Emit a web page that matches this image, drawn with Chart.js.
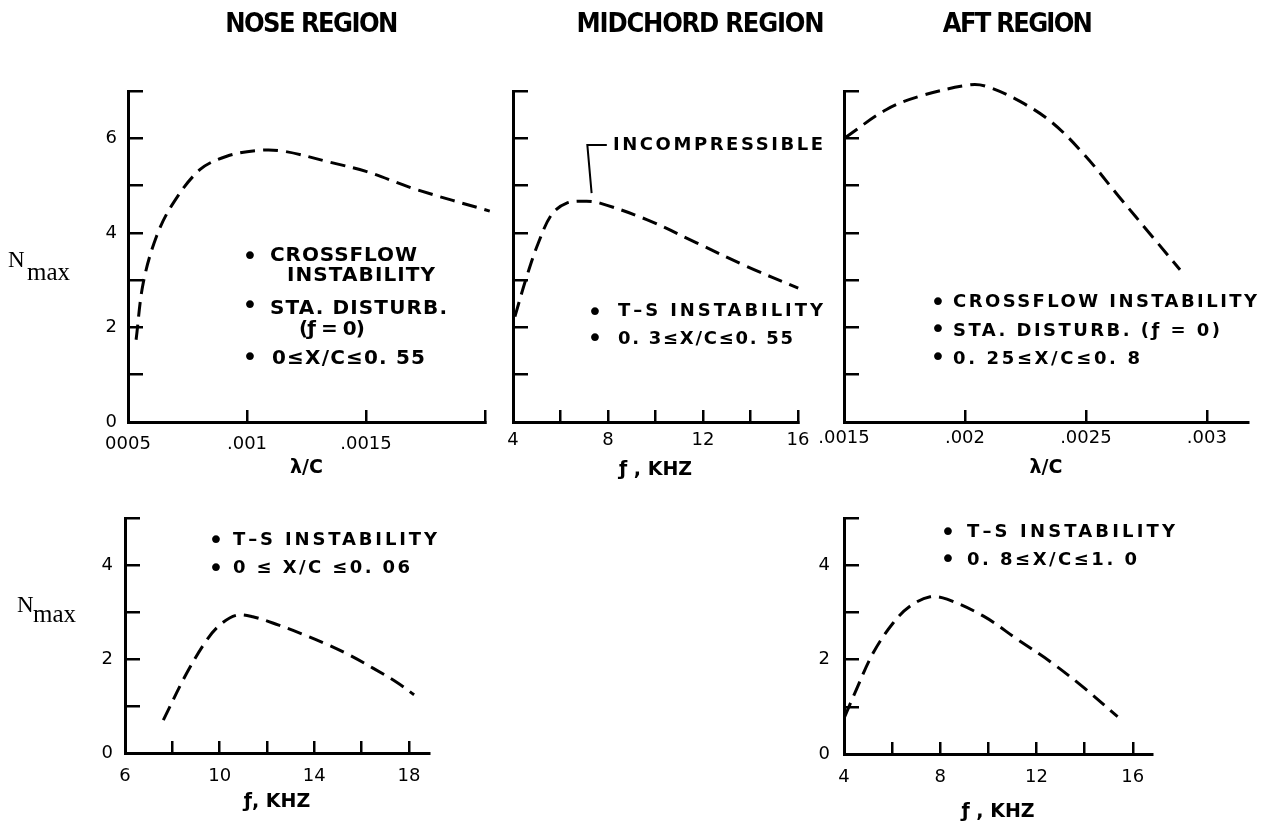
<!DOCTYPE html>
<html lang="en">
<head>
<meta charset="utf-8">
<title>Nmax versus wavelength and frequency</title>
<script src="https://cdn.jsdelivr.net/npm/chart.js@4.4.1/dist/chart.umd.min.js"></script>
<style>
  html, body { margin: 0; padding: 0; background: #fff; }
  #page { position: relative; width: 1271px; height: 826px; overflow: hidden; background: #fff; }
  #page canvas { position: absolute; left: 0; top: 0; }
  .t { position: absolute; white-space: nowrap; line-height: 1; color: #000; transform: translateY(-50%); }
  .c { transform: translate(-50%, -50%); }
  .head { font-family: 'Liberation Sans Narrow', 'DejaVu Sans Condensed', 'DejaVu Sans', sans-serif; font-stretch: condensed; font-weight: bold; font-size: 27px; }
  .note { font-family: 'DejaVu Sans', sans-serif; font-weight: bold; font-size: 18px; }
  .big { font-size: 20px; }
  .dot { font-family: 'DejaVu Sans', sans-serif; font-size: 27px; }
  .serif { position: absolute; line-height: 1; white-space: nowrap; font-family: 'Liberation Serif', 'DejaVu Serif', serif; color: #000; }
</style>
</head>
<body>
<div id="page">
  <canvas id="noseCf" width="1271" height="826"></canvas>
  <canvas id="midTs" width="1271" height="826"></canvas>
  <canvas id="aftCf" width="1271" height="826"></canvas>
  <canvas id="noseTs" width="1271" height="826"></canvas>
  <canvas id="aftTs" width="1271" height="826"></canvas>

  <!-- region headings -->
  <div class="t c head" data-w="173" style="left:311px; top:22px">NOSE REGION</div>
  <div class="t c head" data-w="248" style="left:700px; top:22px">MIDCHORD REGION</div>
  <div class="t c head" data-w="150" style="left:1017px; top:22px">AFT REGION</div>

  <!-- N max labels -->
  <div class="serif" style="left:8px; top:248px; font-size:23px">N</div>
  <div class="serif" style="left:27px; top:259px; font-size:25px">max</div>
  <div class="serif" style="left:17px; top:593px; font-size:23px">N</div>
  <div class="serif" style="left:33px; top:601px; font-size:25px">max</div>

  <!-- nose, crossflow notes -->
  <div class="t c dot" style="left:250px; top:255px">•</div>
  <div class="t note big" data-w="147" style="left:270px; top:254px">CROSSFLOW</div>
  <div class="t note big" data-w="148" style="left:287px; top:274px">INSTABILITY</div>
  <div class="t c dot" style="left:250px; top:304px">•</div>
  <div class="t note big" data-w="177" style="left:270px; top:307px">STA. DISTURB.</div>
  <div class="t note big" data-w="66" style="left:299px; top:328px">(ƒ = 0)</div>
  <div class="t c dot" style="left:250px; top:356px">•</div>
  <div class="t note big" data-w="153" style="left:272px; top:357px">0≤X/C≤0. 55</div>

  <!-- midchord notes -->
  <div class="t note" data-w="210" style="left:613px; top:144px">INCOMPRESSIBLE</div>
  <div class="t c dot" style="left:595px; top:311px">•</div>
  <div class="t note" data-w="205" style="left:618px; top:310px">T–S INSTABILITY</div>
  <div class="t c dot" style="left:595px; top:337px">•</div>
  <div class="t note" data-w="175" style="left:618px; top:338px">0. 3≤X/C≤0. 55</div>

  <!-- aft, crossflow notes -->
  <div class="t c dot" style="left:938px; top:301px">•</div>
  <div class="t note" data-w="304" style="left:953px; top:301px">CROSSFLOW INSTABILITY</div>
  <div class="t c dot" style="left:938px; top:328px">•</div>
  <div class="t note" data-w="267" style="left:953px; top:330px">STA. DISTURB. (ƒ = 0)</div>
  <div class="t c dot" style="left:938px; top:356px">•</div>
  <div class="t note" data-w="187" style="left:953px; top:358px">0. 25≤X/C≤0. 8</div>

  <!-- nose, T-S notes -->
  <div class="t c dot" style="left:216px; top:539px">•</div>
  <div class="t note" data-w="204" style="left:233px; top:539px">T–S INSTABILITY</div>
  <div class="t c dot" style="left:216px; top:567px">•</div>
  <div class="t note" data-w="177" style="left:233px; top:567px">0 ≤ X/C ≤0. 06</div>

  <!-- aft, T-S notes -->
  <div class="t c dot" style="left:948px; top:531px">•</div>
  <div class="t note" data-w="208" style="left:967px; top:531px">T–S INSTABILITY</div>
  <div class="t c dot" style="left:948px; top:558px">•</div>
  <div class="t note" data-w="170" style="left:967px; top:559px">0. 8≤X/C≤1. 0</div>
</div>

<script>
"use strict";

// nose region: crossflow instability, stationary disturbance
const noseCfLambda = [0.000534, 0.000564, 0.00062, 0.00069, 0.000803, 0.000915, 0.00104, 0.00115, 0.00136, 0.0015, 0.00171, 0.00202];
const noseCfN = [1.74, 2.94, 3.93, 4.63, 5.34, 5.62, 5.74, 5.73, 5.48, 5.30, 4.92, 4.46];
const noseCfXTicks = [0.0005, 0.001, 0.0015, 0.002];
const noseCfXLabels = ['0005', '.001', '.0015', ''];

// N axis of the upper row
const upperNTicks = [0, 1, 2, 3, 4, 5, 6, 7];
const upperNLabels = ['0', '', '2', '', '4', '', '6', ''];
const upperNBlank = ['', '', '', '', '', '', '', ''];

// midchord region: T-S instability
const midTsFreq = [4.08, 4.58, 5.07, 5.63, 6.26, 7.1, 7.66, 9.63, 11.73, 13.84, 16.01];
const midTsN = [2.23, 3.08, 3.79, 4.39, 4.63, 4.67, 4.63, 4.28, 3.79, 3.29, 2.83];
const midXTicks = [4, 6, 8, 10, 12, 14, 16];
const midXLabels = ['4', '', '8', '', '12', '', '16'];
// pointer line to the INCOMPRESSIBLE note
const incompLeaderFreq = [7.31, 7.13, 7.95];
const incompLeaderN = [4.84, 5.86, 5.86];

// aft region: crossflow instability
const aftCfLambda = [0.001504, 0.001676, 0.001813, 0.002019, 0.002087, 0.002224, 0.002361, 0.002499, 0.002636, 0.002773, 0.002889];
const aftCfN = [6.01, 6.61, 6.89, 7.13, 7.10, 6.79, 6.33, 5.62, 4.77, 3.93, 3.22];
const aftCfXTicks = [0.0015, 0.002, 0.0025, 0.003];
const aftCfXLabels = ['.0015', '.002', '.0025', '.003'];

// N axis of the lower row
const lowerNTicks = [0, 1, 2, 3, 4, 5];
const lowerNLabels = ['0', '', '2', '', '4', ''];

// nose region: T-S instability
const noseTsFreq = [7.62, 8.6, 9.45, 10.0, 10.7, 11.4, 12.5, 13.5, 14.5, 15.5, 16.5, 17.5, 18.22];
const noseTsN = [0.70, 1.69, 2.40, 2.72, 2.93, 2.90, 2.72, 2.53, 2.32, 2.08, 1.80, 1.50, 1.24];
const noseTsXTicks = [6, 8, 10, 12, 14, 16, 18];
const noseTsXLabels = ['6', '', '10', '', '14', '', '18'];

// aft region: T-S instability
const aftTsFreq = [4.03, 4.45, 5.21, 6.05, 6.74, 7.58, 8.28, 9.8, 11.2, 12.59, 13.98, 15.37];
const aftTsN = [0.79, 1.29, 2.14, 2.78, 3.13, 3.33, 3.28, 2.92, 2.43, 1.95, 1.40, 0.79];
const aftTsXTicks = [4, 6, 8, 10, 12, 14, 16];
const aftTsXLabels = ['4', '', '8', '', '12', '', '16'];

const W = 1271, H = 826;
const Y_W = 60, X_H = 70;

function pairs(xs, ys) {
    return xs.map((x, i) => ({ x: x, y: ys[i] }));
}

function dashed(xs, ys) {
    return {
        data: pairs(xs, ys),
        borderColor: '#000',
        borderWidth: 3,
        borderDash: [15, 8],
        pointRadius: 0,
        tension: 0.35,
        fill: false,
        clip: false
    };
}

function solid(xs, ys) {
    return {
        data: pairs(xs, ys),
        borderColor: '#000',
        borderWidth: 2,
        pointRadius: 0,
        tension: 0,
        fill: false,
        clip: false
    };
}

// linear axis with ticks pointing into the plot
function axis(o) {
    return {
        type: 'linear',
        min: o.min,
        max: o.max,
        border: { display: true, color: '#000', width: 3 },
        grid: { drawOnChartArea: false, drawTicks: true, tickLength: -o.tick, color: '#000', lineWidth: 2.5 },
        ticks: {
            color: '#000',
            font: { family: 'DejaVu Sans', size: 18 },
            padding: o.pad,
            autoSkip: false,
            maxRotation: 0,
            callback: (v, i) => o.labels[i]
        },
        afterBuildTicks: s => { s.ticks = o.values.map(v => ({ value: v })); },
        afterFit: s => { if (s.isHorizontal()) s.height = X_H; else s.width = Y_W; },
        title: o.title ? {
            display: true,
            text: o.title,
            color: '#000',
            font: { family: 'DejaVu Sans', size: 19, weight: 'bold' },
            padding: { top: 0, bottom: o.titlePad }
        } : { display: false }
    };
}

function panel(id, box, x, y, datasets) {
    new Chart(document.getElementById(id), {
        type: 'line',
        data: { datasets: datasets },
        options: {
            responsive: false,
            animation: false,
            devicePixelRatio: 1,
            events: [],
            layout: {
                padding: { left: box.left - Y_W, right: W - box.right, top: box.top, bottom: H - box.bottom - X_H }
            },
            plugins: { legend: { display: false }, tooltip: { enabled: false } },
            scales: { x: axis(x), y: axis(y) }
        }
    });
}

panel('noseCf', { left: 128, right: 485, top: 91, bottom: 422 },
    { min: 0.0005, max: 0.002, values: noseCfXTicks, labels: noseCfXLabels, tick: 12, pad: 24, title: 'λ/C', titlePad: 13 },
    { min: 0, max: 7, values: upperNTicks, labels: upperNLabels, tick: 15, pad: 26 },
    [dashed(noseCfLambda, noseCfN)]);

panel('midTs', { left: 513, right: 798, top: 91, bottom: 422 },
    { min: 4, max: 16, values: midXTicks, labels: midXLabels, tick: 12, pad: 20, title: 'ƒ , KHZ', titlePad: 11 },
    { min: 0, max: 7, values: upperNTicks, labels: upperNBlank, tick: 15, pad: 26 },
    [dashed(midTsFreq, midTsN), solid(incompLeaderFreq, incompLeaderN)]);

panel('aftCf', { left: 844, right: 1248, top: 91, bottom: 422 },
    { min: 0.0015, max: 0.00317, values: aftCfXTicks, labels: aftCfXLabels, tick: 12, pad: 18, title: 'λ/C', titlePad: 13 },
    { min: 0, max: 7, values: upperNTicks, labels: upperNBlank, tick: 15, pad: 26 },
    [dashed(aftCfLambda, aftCfN)]);

panel('noseTs', { left: 125, right: 429, top: 518, bottom: 753 },
    { min: 6, max: 18.85, values: noseTsXTicks, labels: noseTsXLabels, tick: 12, pad: 25, title: 'ƒ, KHZ', titlePad: 10 },
    { min: 0, max: 5, values: lowerNTicks, labels: lowerNLabels, tick: 15, pad: 27 },
    [dashed(noseTsFreq, noseTsN)]);

panel('aftTs', { left: 844, right: 1152, top: 518, bottom: 754 },
    { min: 4, max: 16.8, values: aftTsXTicks, labels: aftTsXLabels, tick: 12, pad: 25, title: 'ƒ , KHZ', titlePad: 1 },
    { min: 0, max: 5, values: lowerNTicks, labels: lowerNLabels, tick: 15, pad: 29 },
    [dashed(aftTsFreq, aftTsN)]);

// stretch the lettering of each note to its set width
document.querySelectorAll('[data-w]').forEach(el => {
    const n = el.textContent.length;
    el.style.letterSpacing = '0px';
    const w0 = el.getBoundingClientRect().width;
    el.style.letterSpacing = ((parseFloat(el.dataset.w) - w0) / Math.max(n - 1, 1)) + 'px';
});
</script>
</body>
</html>
